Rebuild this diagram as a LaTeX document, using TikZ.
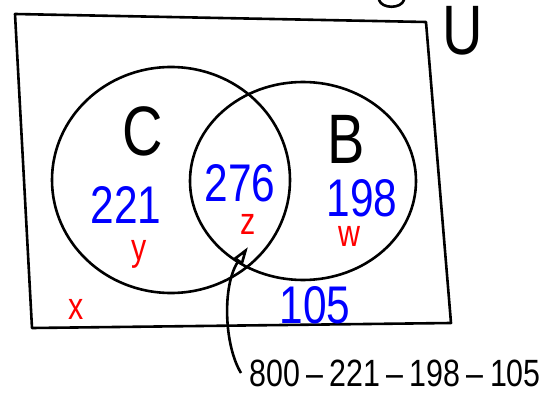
\documentclass[tikz,border=0pt]{standalone}
\usepackage{fontspec}
\setmainfont[FakeStretch=0.8]{Liberation Sans}
\usetikzlibrary{positioning, arrows.meta, calc}

\begin{document}
\begin{tikzpicture}[
    x=1pt, y=-1pt,
    every node/.style={inner sep=0pt},
    stroke/.style={draw=black, line width=2.6pt, line cap=round, line join=round},
    arrow/.style={-{Triangle[open, length=18pt, width=11pt]}, line width=2.6pt, draw=black},
    setname/.style={font=\fontsize{70}{70}\selectfont, text=black},
    count/.style={font=\fontsize{53}{53}\selectfont, text=blue},
    unknown/.style={font=\fontsize{38}{38}\selectfont, text=red},
    note/.style={font=\fontsize{38}{38}\selectfont, text=black}
]
\useasboundingbox (0,0) rectangle (559,398);

% universal set
\draw[stroke] (15,14) -- (426,22) -- (451,323) -- (32,328) -- cycle;
\draw[stroke] (379,0) .. controls (382,9) and (401,9) .. (404,0);
\node[setname] (u) at (463,31) {U};

% the two sets
\draw[stroke] (171,180) ellipse [x radius=119, y radius=113];
\draw[stroke] (303,181) ellipse [x radius=113, y radius=99];
\node[setname] (c) at (143,131) {C};
\node[setname] (b) at (346,139) {B};

% counts
\node[count] (conly) at (126,205) {221};
\node[count] (both) at (240,183) {276};
\node[count] (bonly) at (362,198) {198};
\node[count] (none) at (315,305) {105};

% unknowns
\node[unknown] (y) at (139,254) {y};
\node[unknown] (z) at (248,224) {z};
\node[unknown] (w) at (349,236) {w};
\node[unknown] (x) at (76,309) {x};

% working
\node[note] (calc) at (395,373) {800\,–\,221\,–\,198\,–\,105};
\coordinate (tip) at (248,247);
\draw[arrow] ([xshift=-8pt]calc.west) .. controls (224,345) and (222,285) .. (tip);

\end{tikzpicture}
\end{document}
